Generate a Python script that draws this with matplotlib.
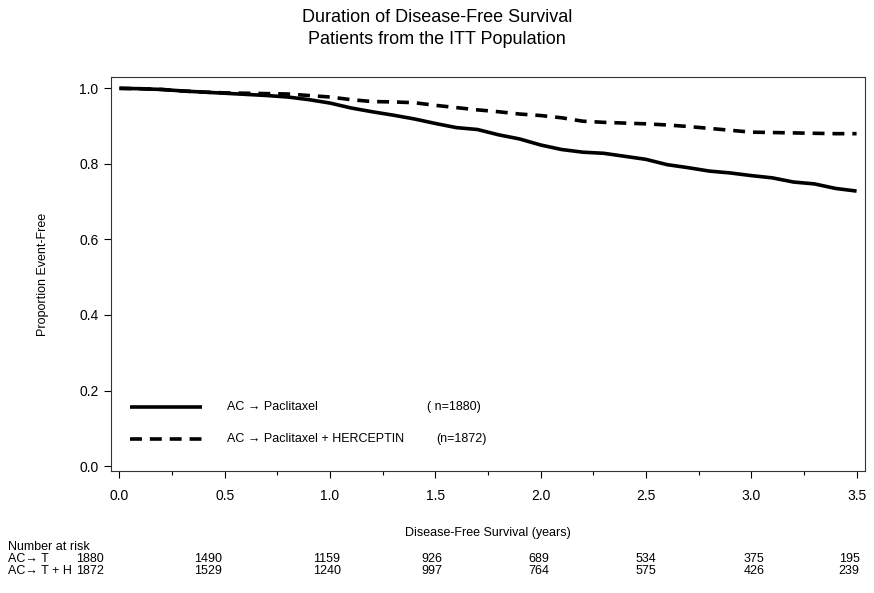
import matplotlib
matplotlib.use("Agg")
import matplotlib.pyplot as plt
from matplotlib.ticker import MultipleLocator, FormatStrFormatter

plt.rcParams['font.family'] = ['Liberation Sans', 'DejaVu Sans']

# ---- data ----
times = [0.0, 0.1, 0.2, 0.3, 0.4, 0.5, 0.6, 0.7, 0.8, 0.9,
         1.0, 1.1, 1.2, 1.3, 1.4, 1.5, 1.6, 1.7, 1.8, 1.9,
         2.0, 2.1, 2.2, 2.3, 2.4, 2.5, 2.6, 2.7, 2.8, 2.9,
         3.0, 3.1, 3.2, 3.3, 3.4, 3.5]
surv_act = [1.000, 0.999, 0.997, 0.993, 0.990, 0.987, 0.984, 0.981, 0.977, 0.970,
            0.961, 0.948, 0.938, 0.929, 0.919, 0.907, 0.896, 0.891, 0.877, 0.866,
            0.850, 0.838, 0.831, 0.828, 0.820, 0.812, 0.798, 0.790, 0.781, 0.776,
            0.769, 0.763, 0.752, 0.747, 0.735, 0.728]
surv_acth = [1.000, 0.999, 0.997, 0.993, 0.990, 0.988, 0.987, 0.986, 0.985, 0.981,
             0.977, 0.970, 0.965, 0.964, 0.962, 0.955, 0.949, 0.943, 0.938, 0.932,
             0.928, 0.922, 0.913, 0.910, 0.908, 0.906, 0.903, 0.899, 0.894, 0.889,
             0.884, 0.883, 0.882, 0.881, 0.880, 0.880]

risk_times = [0.0, 0.5, 1.0, 1.5, 2.0, 2.5, 3.0, 3.5]
risk_act = [1880, 1490, 1159, 926, 689, 534, 375, 195]
risk_acth = [1872, 1529, 1240, 997, 764, 575, 426, 239]

legend_labels = ["AC \u2192 Paclitaxel", "AC \u2192 Paclitaxel + HERCEPTIN"]
legend_n = ["( n=1880)", "(n=1872)"]
risk_row_labels = ["AC\u2192 T", "AC\u2192 T + H"]

# ---- figure ----
W, H = 874, 593
fig = plt.figure(figsize=(W / 100, H / 100), dpi=100)
ax = fig.add_axes([111 / W, 1 - 471 / H, (865 - 111) / W, (471 - 77) / H])

DASH = (0, (3.3, 2.2))
ax.plot(times, surv_act, color='black', lw=2.6, solid_capstyle='butt')
ax.plot(times, surv_acth, color='black', lw=2.6, linestyle=DASH)

ax.set_xlim(-0.04, 3.54)
ax.set_ylim(-0.013, 1.03)
ax.xaxis.set_major_locator(MultipleLocator(0.5))
ax.xaxis.set_minor_locator(MultipleLocator(0.25))
ax.yaxis.set_major_locator(MultipleLocator(0.2))
ax.xaxis.set_major_formatter(FormatStrFormatter('%.1f'))
ax.yaxis.set_major_formatter(FormatStrFormatter('%.1f'))
ax.tick_params(axis='x', which='major', direction='out', length=5, width=0.8,
               labelsize=10, pad=8)
ax.tick_params(axis='y', which='major', direction='out', length=5, width=0.8,
               labelsize=10, pad=4)
ax.tick_params(axis='x', which='minor', direction='out', length=3, width=0.8)
for s in ax.spines.values():
    s.set_linewidth(0.8)
    s.set_color('#333333')

ax.set_ylabel("Proportion Event-Free", fontsize=9, labelpad=22)
ax.set_xlabel("Disease-Free Survival (years)", fontsize=9, labelpad=17)

# legend drawn inside axes
leg_y = [0.156, 0.071]
ax.plot([0.05, 0.39], [leg_y[0]] * 2, color='black', lw=2.6, solid_capstyle='butt')
ax.plot([0.05, 0.39], [leg_y[1]] * 2, color='black', lw=2.6, linestyle=DASH)
ax.text(0.51, leg_y[0], legend_labels[0], fontsize=9, va='center')
ax.text(0.51, leg_y[1], legend_labels[1], fontsize=9, va='center')
ax.text(1.46, leg_y[0], legend_n[0], fontsize=9, va='center')
ax.text(1.505, leg_y[1], legend_n[1], fontsize=9, va='center')

fig.text(437 / W, 1 - 17 / H, "Duration of Disease-Free Survival", ha='center', va='center', fontsize=13)
fig.text(437 / W, 1 - 40 / H, "Patients from the ITT Population", ha='center', va='center', fontsize=13)

# number at risk table
col_px = [90, 208, 327, 432, 539, 646, 754, 849]
fs = 9
fig.text(8 / W, 1 - 547 / H, "Number at risk", fontsize=fs, va='center')
fig.text(8 / W, 1 - 559 / H, risk_row_labels[0], fontsize=fs, va='center')
fig.text(8 / W, 1 - 571 / H, risk_row_labels[1], fontsize=fs, va='center')
for px, a, b in zip(col_px, risk_act, risk_acth):
    fig.text(px / W, 1 - 559 / H, str(a), fontsize=fs, ha='center', va='center')
    fig.text(px / W, 1 - 571 / H, str(b), fontsize=fs, ha='center', va='center')

fig.savefig("out.png", dpi=100)
